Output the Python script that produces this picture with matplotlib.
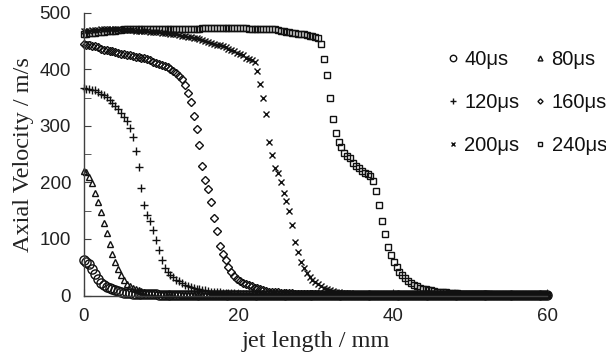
import numpy as np
import matplotlib
matplotlib.use("Agg")
import matplotlib.pyplot as plt
from matplotlib.ticker import MultipleLocator

# sampling positions along the jet (mm)
jet_length = np.linspace(0, 60, 161)

v40 = [63, 60, 55, 47, 38, 30, 23, 18, 15, 13, 11, 9, 8, 6, 5, 4, 4, 3, 3, 3,
       2, 2, 2, 2, 2, 2, 1, 1, 1, 1, 1, 1, 1, 1, 1, 1, 1, 1, 1, 1,
       1, 1, 1, 1, 1, 1, 1, 1, 1, 1, 1, 1, 1, 1, 1, 1, 1, 1, 1, 1,
       1, 1, 1, 1, 1, 1, 1, 1, 1, 1, 1, 1, 1, 1, 1, 1, 1, 1, 1, 1,
       1, 1, 1, 1, 1, 1, 1, 1, 1, 1, 1, 1, 1, 1, 1, 1, 1, 1, 1, 1,
       1, 1, 1, 1, 1, 1, 1, 1, 1, 1, 1, 1, 1, 1, 1, 1, 1, 1, 1, 1,
       1, 1, 1, 1, 1, 1, 1, 1, 1, 1, 1, 1, 1, 1, 1, 1, 1, 1, 1, 1,
       1, 1, 1, 1, 1, 1, 1, 1, 1, 1, 1, 1, 1, 1, 1, 1, 1, 1, 1, 1, 1]

v80 = [221, 218, 210, 199, 182, 166, 147, 128, 110, 91, 73, 59, 47, 36, 27, 20, 16, 13, 11, 9,
       8, 6, 5, 5, 4, 4, 3, 3, 3, 2, 2, 2, 2, 2, 1, 1, 1, 1, 1, 1,
       1, 1, 1, 1, 1, 1, 1, 1, 1, 1, 1, 1, 1, 1, 1, 1, 1, 1, 1, 1,
       1, 1, 1, 1, 1, 1, 1, 1, 1, 1, 1, 1, 1, 1, 1, 1, 1, 1, 1, 1,
       1, 1, 1, 1, 1, 1, 1, 1, 1, 1, 1, 1, 1, 1, 1, 1, 1, 1, 1, 1,
       1, 1, 1, 1, 1, 1, 1, 1, 1, 1, 1, 1, 1, 1, 1, 1, 1, 1, 1, 1,
       1, 1, 1, 1, 1, 1, 1, 1, 1, 1, 1, 1, 1, 1, 1, 1, 1, 1, 1, 1,
       1, 1, 1, 1, 1, 1, 1, 1, 1, 1, 1, 1, 1, 1, 1, 1, 1, 1, 1, 1, 1]

v120 = [368, 366, 365, 364, 363, 360, 357, 354, 351, 346, 341, 336, 330, 323, 316, 309, 297, 281, 255, 227,
        190, 160, 143, 131, 116, 98, 80, 62, 49, 41, 36, 32, 28, 25, 22, 19, 17, 15, 13, 12,
        11, 10, 9, 8, 7, 7, 6, 6, 5, 5, 4, 4, 4, 3, 3, 3, 3, 2, 2, 2,
        2, 2, 1, 1, 1, 1, 1, 1, 1, 1, 1, 1, 1, 1, 1, 1, 1, 1, 1, 1,
        1, 1, 1, 1, 1, 1, 1, 1, 1, 1, 1, 1, 1, 1, 1, 1, 1, 1, 1, 1,
        1, 1, 1, 1, 1, 1, 1, 1, 1, 1, 1, 1, 1, 1, 1, 1, 1, 1, 1, 1,
        1, 1, 1, 1, 1, 1, 1, 1, 1, 1, 1, 1, 1, 1, 1, 1, 1, 1, 1, 1,
        1, 1, 1, 1, 1, 1, 1, 1, 1, 1, 1, 1, 1, 1, 1, 1, 1, 1, 1, 1, 1]

v160 = [445, 444, 443, 442, 441, 439, 437, 435, 434, 433, 432, 431, 430, 428, 427, 426, 425, 424, 423, 422,
        421, 420, 418, 416, 414, 412, 410, 408, 406, 404, 401, 398, 394, 389, 383, 372, 358, 342, 318, 295,
        267, 230, 205, 188, 166, 138, 115, 88, 74, 63, 50, 41, 34, 29, 26, 23, 21, 18, 16, 14,
        13, 11, 9, 8, 7, 7, 6, 6, 5, 5, 4, 4, 4, 3, 3, 3, 3, 2, 2, 2,
        2, 2, 1, 1, 1, 1, 1, 1, 1, 1, 1, 1, 1, 1, 1, 1, 1, 1, 1, 1,
        1, 1, 1, 1, 1, 1, 1, 1, 1, 1, 1, 1, 1, 1, 1, 1, 1, 1, 1, 1,
        1, 1, 1, 1, 1, 1, 1, 1, 1, 1, 1, 1, 1, 1, 1, 1, 1, 1, 1, 1,
        1, 1, 1, 1, 1, 1, 1, 1, 1, 1, 1, 1, 1, 1, 1, 1, 1, 1, 1, 1, 1]

v200 = [468, 469, 469, 470, 470, 470, 471, 471, 471, 471, 471, 471, 471, 470, 470, 470, 470, 470, 469, 469,
        469, 468, 468, 467, 467, 466, 466, 465, 465, 464, 463, 463, 462, 461, 460, 459, 458, 457, 456, 455,
        454, 452, 450, 448, 447, 445, 444, 443, 442, 440, 437, 435, 433, 430, 428, 425, 421, 418, 416, 413,
        398, 375, 349, 321, 272, 248, 226, 216, 200, 181, 168, 150, 125, 95, 77, 60, 48, 40, 33, 28,
        24, 20, 17, 14, 12, 10, 8, 7, 6, 5, 5, 4, 4, 3, 3, 3, 2, 2, 2, 2,
        2, 1, 1, 1, 1, 1, 1, 1, 1, 1, 1, 1, 1, 1, 1, 1, 1, 1, 1, 1,
        1, 1, 1, 1, 1, 1, 1, 1, 1, 1, 1, 1, 1, 1, 1, 1, 1, 1, 1, 1,
        1, 1, 1, 1, 1, 1, 1, 1, 1, 1, 1, 1, 1, 1, 1, 1, 1, 1, 1, 1, 1]

v240 = [462, 463, 464, 464, 465, 466, 467, 467, 468, 468, 469, 469, 470, 470, 471, 471, 471, 472, 472, 472,
        472, 472, 472, 472, 472, 472, 472, 472, 472, 472, 472, 472, 472, 472, 472, 472, 472, 472, 472, 472,
        472, 473, 473, 473, 473, 473, 473, 473, 473, 473, 473, 473, 473, 473, 473, 473, 473, 472, 472, 472,
        472, 472, 472, 471, 471, 471, 471, 470, 469, 468, 467, 466, 465, 464, 463, 463, 462, 461, 460, 459,
        457, 455, 445, 418, 390, 350, 312, 287, 272, 262, 253, 247, 243, 235, 230, 225, 221, 217, 215, 212,
        203, 185, 160, 131, 109, 86, 72, 60, 50, 41, 36, 31, 26, 22, 19, 16, 14, 12, 11, 10,
        9, 8, 7, 7, 6, 6, 5, 5, 4, 4, 3, 3, 3, 2, 2, 2, 2, 2, 2, 2,
        2, 1, 1, 1, 1, 1, 1, 1, 1, 1, 1, 1, 1, 1, 1, 1, 1, 1, 1, 1, 1]

labels = ["40μs", "80μs", "120μs", "160μs", "200μs", "240μs"]
series = [v40, v80, v120, v160, v200, v240]
markers = ["o", "^", "+", "D", "x", "s"]
msizes = [6.6, 5.0, 5.4, 3.7, 5.0, 4.8]

fig = plt.figure(figsize=(6.06, 3.62), dpi=100)
ax = fig.add_axes([0.1378, 0.1837, 0.7653, 0.7804])

ink = "#111111"
handles = []
for lab, vals, m, ms in zip(labels, series, markers, msizes):
    h, = ax.plot(jet_length, vals, linestyle="none", marker=m, markersize=ms,
                 markerfacecolor="none", markeredgecolor=ink, markeredgewidth=1.0,
                 label=lab, clip_on=False)
    handles.append(h)

ax.set_xlim(0, 60)
ax.set_ylim(0, 500)
ax.xaxis.set_major_locator(MultipleLocator(20))
ax.yaxis.set_major_locator(MultipleLocator(100))
ax.yaxis.set_minor_locator(MultipleLocator(50))
for s in ["top", "right"]:
    ax.spines[s].set_visible(False)
for s in ["left", "bottom"]:
    ax.spines[s].set_color("#404040")
    ax.spines[s].set_linewidth(1.0)

ax.tick_params(axis="both", which="both", direction="in", color="#404040")
ax.tick_params(axis="y", which="major", length=5, pad=9)
ax.tick_params(axis="y", which="minor", length=5)
ax.tick_params(axis="x", which="major", length=5, pad=9)
for t in ax.get_xticklabels() + ax.get_yticklabels():
    t.set_fontfamily("Liberation Sans")
    t.set_fontsize(13.5)
    t.set_color("#222222")

ax.set_xlabel("jet length / mm", family="Liberation Serif", fontsize=17.5,
              color="#222222", labelpad=4)
ax.set_ylabel("Axial Velocity / m/s", family="Liberation Serif", fontsize=17.5,
              color="#222222", labelpad=4)

# row-wise legend order: 40 80 / 120 160 / 200 240
order = [0, 2, 4, 1, 3, 5]
leg = ax.legend([handles[i] for i in order], [labels[i] for i in order],
                ncol=2, loc="upper left", bbox_to_anchor=(437 / 606, 1 - 40 / 362),
                bbox_transform=fig.transFigure, frameon=False,
                prop={"family": "Liberation Sans", "size": 14.5},
                markerscale=0.7, handlelength=0.6, handletextpad=0.25,
                columnspacing=0.75, labelspacing=1.2, borderpad=0)
for t in leg.get_texts():
    t.set_color("#111111")

fig.savefig("out.png", dpi=100)
